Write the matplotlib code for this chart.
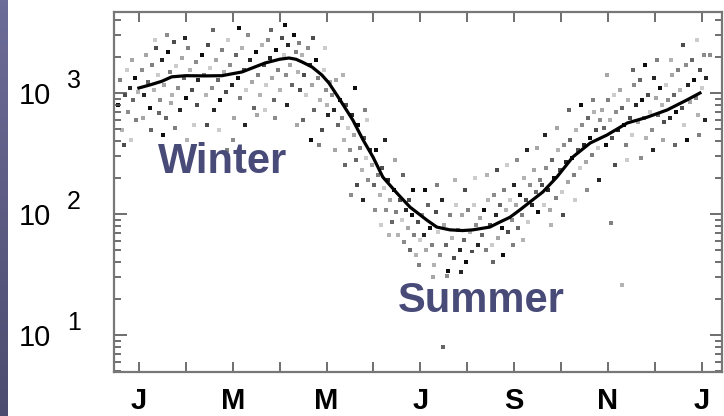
import numpy as np
from matplotlib import pyplot as plt
from matplotlib.ticker import LogLocator, NullFormatter, FixedLocator
from matplotlib.transforms import ScaledTranslation, blended_transform_factory

plt.rcParams['font.family'] = ['Liberation Sans', 'DejaVu Sans']

# month axis: 0 = 1 Jan, 12 = next 1 Jan
month_ticks = list(range(13))
month_labels = ['J', 'M', 'M', 'J', 'S', 'N', 'J']
decades = [10, 100, 1000]
decade_exps = ['1', '2', '3']

# smoothed seasonal curve
curve_month = [0.0, 0.25, 0.49, 0.70, 1.00, 1.40, 1.77, 2.20, 2.69, 3.00, 3.20, 3.35, 3.48,
               3.69, 3.90, 4.05, 4.29, 4.56, 4.78, 4.99, 5.20, 5.50, 5.78, 6.14, 6.35, 6.63,
               6.90, 7.12, 7.48, 7.70, 7.91, 8.12, 8.34, 8.61, 8.91, 9.25, 9.62, 9.98, 10.41,
               10.83, 11.26, 11.68, 11.96]
curve_val = [1100, 1170, 1250, 1360, 1390, 1385, 1390, 1493, 1770, 1900, 1946, 1900, 1804,
             1641, 1409, 1211, 875, 598, 409, 296, 202, 149, 114, 89, 78, 74,
             73, 74, 78, 86, 94, 108, 126, 152, 202, 296, 386, 450, 565,
             630, 724, 875, 1000]

obs_month = [
    -0.45, -0.41, -0.36, -0.30, -0.26, -0.23, -0.19, -0.15, -0.13, -0.09, -0.06, -0.02, -0.32, -0.17,
    0.06, 0.11, 0.15, 0.19, 0.23, 0.28, 0.32, 0.36, 0.41, 0.45, 0.49, 0.53, 0.58, 0.62, 0.66, 0.70,
    0.75, 0.79, 0.83, 0.87, 0.92, 0.96, 1.00, 1.04, 1.09, 1.13, 1.17, 1.22, 1.26, 0.09, 0.26, 0.51,
    0.77, 1.02, 1.24, 0.34, 0.60, 0.98, 0.68, 0.43,
    1.34, 1.39, 1.43, 1.47, 1.51, 1.56, 1.60, 1.64, 1.68, 1.73, 1.77, 1.81, 1.86, 1.90, 1.94, 1.98,
    2.03, 2.07, 2.11, 2.15, 2.20, 2.24, 2.28, 2.32, 2.37, 2.41, 2.45, 2.49, 2.54, 2.58, 1.45, 1.71,
    2.00, 2.26, 2.52, 1.58, 2.13, 1.88,
    2.62, 2.67, 2.71, 2.75, 2.79, 2.84, 2.88, 2.92, 2.96, 3.01, 3.05, 3.09, 3.13, 3.18, 3.22, 3.26,
    3.30, 3.35, 3.39, 3.43, 2.69, 2.90, 3.16, 3.37, 2.81, 3.11, 3.41,
    3.48, 3.52, 3.56, 3.60, 3.65, 3.69, 3.73, 3.77, 3.82, 3.86, 3.90, 3.94, 3.99, 4.03, 4.07, 3.50,
    3.67, 3.84, 4.01, 3.71, 3.97,
    4.12, 4.16, 4.20, 4.24, 4.29, 4.33, 4.37, 4.41, 4.46, 4.50, 4.54, 4.58, 4.63, 4.67, 4.71, 4.75,
    4.80, 4.84, 4.88, 4.93, 4.18, 4.39, 4.61, 4.82, 4.35, 4.65, 4.86, 4.52, 4.78,
    4.97, 5.01, 5.05, 5.10, 5.14, 5.18, 5.22, 5.27, 5.31, 5.35, 5.39, 5.44, 5.48, 5.52, 5.57, 5.61,
    5.65, 5.69, 5.74, 5.78, 5.82, 5.86, 5.91, 5.95, 5.99, 5.03, 5.25, 5.46, 5.63, 5.84, 5.97, 5.33,
    5.76, 5.16,
    6.03, 6.08, 6.12, 6.16, 6.20, 6.25, 6.29, 6.33, 6.38, 6.42, 6.46, 6.50, 6.55, 6.59, 6.63, 6.67,
    6.72, 6.76, 6.80, 6.84, 6.89, 6.93, 6.97, 7.01, 7.06, 7.10, 7.14, 7.19, 7.23, 7.27, 6.48, 6.10,
    6.35, 6.74, 6.95, 7.16, 6.57, 6.87, 6.27,
    7.31, 7.36, 7.40, 7.44, 7.48, 7.53, 7.57, 7.61, 7.65, 7.70, 7.74, 7.78, 7.83, 7.87, 7.91, 7.95,
    8.00, 8.04, 8.08, 8.12, 8.17, 8.21, 8.25, 8.29, 8.34, 8.38, 8.42, 8.46, 8.51, 8.55, 7.42, 7.63,
    7.85, 8.06, 8.27, 8.49, 7.55, 7.76, 7.97, 8.19,
    8.59, 8.64, 8.68, 8.72, 8.76, 8.81, 8.85, 8.89, 8.93, 8.98, 9.02, 9.06, 9.10, 9.15, 9.19, 9.23,
    9.28, 9.32, 9.36, 9.40, 9.45, 9.49, 9.53, 9.57, 9.62, 9.66, 9.70, 9.74, 9.79, 9.83, 8.66, 8.91,
    9.17, 9.42, 9.68, 8.78, 9.04, 9.30, 9.55, 9.81,
    9.87, 9.91, 9.96, 10.00, 10.04, 10.09, 10.13, 10.17, 10.21, 10.26, 10.30, 10.34, 10.38, 10.43,
    10.47, 10.51, 10.55, 10.60, 10.64, 10.68, 10.73, 10.77, 10.81, 10.85, 10.90, 10.94, 10.98, 11.02,
    11.07, 11.11, 10.06, 10.30, 10.15, 10.41, 10.70, 10.96, 9.98, 10.53, 10.79, 11.04,
    11.15, 11.19, 11.24, 11.28, 11.32, 11.36, 11.41, 11.45, 11.49, 11.54, 11.58, 11.62, 11.66, 11.71,
    11.75, 11.79, 11.83, 11.88, 11.92, 11.96, 12.00, 12.05, 12.09, 11.17, 11.43, 11.68, 11.94, 11.34,
    11.60, 11.90, 12.17, 12.07,
]
obs_val = [
    796, 1280, 494, 964, 1550, 697, 1100, 1870, 875, 1330, 598, 1020, 372, 409,
    1550, 964, 2060, 1230, 752, 1700, 1060, 2350, 1410, 875, 1870, 1160, 621, 2180, 1490, 964,
    2640, 1670, 1100, 724, 1950, 1330, 910, 2350, 1550, 1060, 544, 1800, 1280, 621, 494, 450,
    514, 409, 796, 2740, 3010, 2850, 826, 684,
    2060, 1410, 964, 2490, 1610, 1100, 724, 1870, 1280, 875, 2270, 1490, 1020, 2740, 1700, 1160,
    621, 2060, 1330, 910, 2350, 1550, 1060, 3010, 1870, 1230, 752, 2180, 1410, 964, 544, 494,
    409, 544, 658, 3320, 3440, 338,
    2490, 1700, 1160, 2740, 1950, 1330, 875, 2270, 1550, 1060, 2850, 2060, 1410, 2490, 1700, 1160,
    3010, 2180, 1490, 1060, 724, 621, 796, 544, 3320, 3650, 2590,
    2060, 1410, 964, 2350, 1700, 1160, 724, 1870, 1330, 875, 494, 1550, 1060, 658, 1230, 598,
    409, 372, 796, 2850, 2350,
    964, 724, 1280, 544, 875, 621, 409, 796, 514, 338, 658, 450, 279, 544, 351, 231,
    425, 290, 191, 338, 338, 254, 1100, 724, 1410, 174, 598, 144, 131,
    254, 174, 338, 210, 144, 240, 164, 108, 191, 131, 86, 158, 104, 67, 131, 89,
    59, 108, 77, 50, 98, 67, 46, 86, 61, 108, 409, 279, 210, 158, 38, 67,
    131, 81,
    98, 67, 50, 119, 77, 55, 38, 104, 71, 46, 131, 81, 55, 34, 98, 63,
    43, 119, 74, 50, 98, 61, 40, 108, 71, 49, 119, 81, 55, 93, 8, 158,
    174, 191, 158, 198, 31, 33, 30,
    67, 108, 50, 131, 81, 55, 144, 98, 63, 119, 77, 158, 108, 71, 131, 89,
    174, 119, 77, 144, 98, 198, 131, 86, 174, 119, 231, 152, 104, 191, 210, 231,
    254, 279, 338, 351, 40, 46, 55, 61,
    174, 119, 240, 158, 108, 279, 198, 136, 338, 231, 152, 372, 269, 184, 409, 290,
    210, 494, 338, 240, 544, 372, 269, 621, 425, 307, 697, 494, 351, 598, 450, 514,
    724, 796, 875, 81, 98, 131, 158, 191,
    724, 514, 372, 875, 598, 425, 964, 697, 494, 1060, 752, 544, 372, 875,
    621, 450, 1160, 796, 575, 1280, 875, 621, 425, 964, 697, 494, 1330, 910,
    658, 1100, 84, 26, 254, 279, 290, 338, 1410, 1550, 1700, 1870,
    796, 575, 1160, 875, 621, 1410, 964, 697, 1550, 1060, 752, 544, 1700, 1160,
    843, 1870, 1280, 910, 658, 1550, 1100, 2060, 1330, 409, 372, 409, 450, 1870,
    2490, 2740, 2060, 598,
]

grays = ['0.05', '0.5', '0.7', '0.3', '0.8', '0.55', '0.15', '0.65', '0.4']
dot_colors = [grays[i % len(grays)] for i in range(len(obs_month))]

fig = plt.figure(figsize=(7.24, 4.16), dpi=100)

# slide edge strip on the left
strip = fig.add_axes([0, 0, 8 / 724, 1])
strip.imshow(np.linspace(0, 1, 64).reshape(-1, 1), aspect='auto',
             cmap=plt.matplotlib.colors.LinearSegmentedColormap.from_list('s', ['#6c6c98', '#4c4c70']))
strip.axis('off')

ax = fig.add_axes([114 / 724, 1 - 372 / 416, 608 / 724, 360 / 416])
ax.scatter(obs_month, obs_val, s=8, marker='s', c=dot_colors, linewidths=0)
ax.plot(curve_month, curve_val, color='black', lw=2.3, solid_joinstyle='round')

ax.set_yscale('log')
ax.set_xlim(-0.53, 12.43)
ax.set_ylim(4.95, 4670)

ax.xaxis.set_major_locator(FixedLocator(month_ticks[::2]))
ax.xaxis.set_minor_locator(FixedLocator(month_ticks[1::2]))
ax.set_xticklabels(month_labels, fontsize=21, fontweight='bold')
ax.yaxis.set_major_locator(FixedLocator(decades))
ax.yaxis.set_minor_locator(LogLocator(base=10, subs=np.arange(2, 10)))
ax.yaxis.set_minor_formatter(NullFormatter())
ax.set_yticklabels(['10'] * len(decades), fontsize=21)
for lab in ax.get_yticklabels():
    lab.set_transform(lab.get_transform() + ScaledTranslation(0, -0.07, fig.dpi_scale_trans))

# exponents sit well above the "10", as on the slide
blend = blended_transform_factory(ax.transAxes, ax.transData)
for d, e in zip(decades, decade_exps):
    ax.text(-33 / 608, d, e, fontsize=18, ha='right', va='center',
            transform=blend + ScaledTranslation(0, 0.12, fig.dpi_scale_trans))

ax.tick_params(axis='both', which='both', direction='in', top=True, right=True,
               color='#555555', width=1.2)
ax.tick_params(axis='x', which='both', length=7, pad=11)
ax.tick_params(axis='y', which='major', length=9, pad=45)
ax.tick_params(axis='y', which='minor', length=5)
for sp in ax.spines.values():
    sp.set_color('#777777')
    sp.set_linewidth(1.6)

ax.text(0.41, 218, 'Winter', fontsize=30, fontweight='bold', color='#484a78',
        ha='left', va='baseline')
ax.text(5.52, 15.5, 'Summer', fontsize=30, fontweight='bold', color='#484a78',
        ha='left', va='baseline')

fig.savefig('out.png', dpi=100)
